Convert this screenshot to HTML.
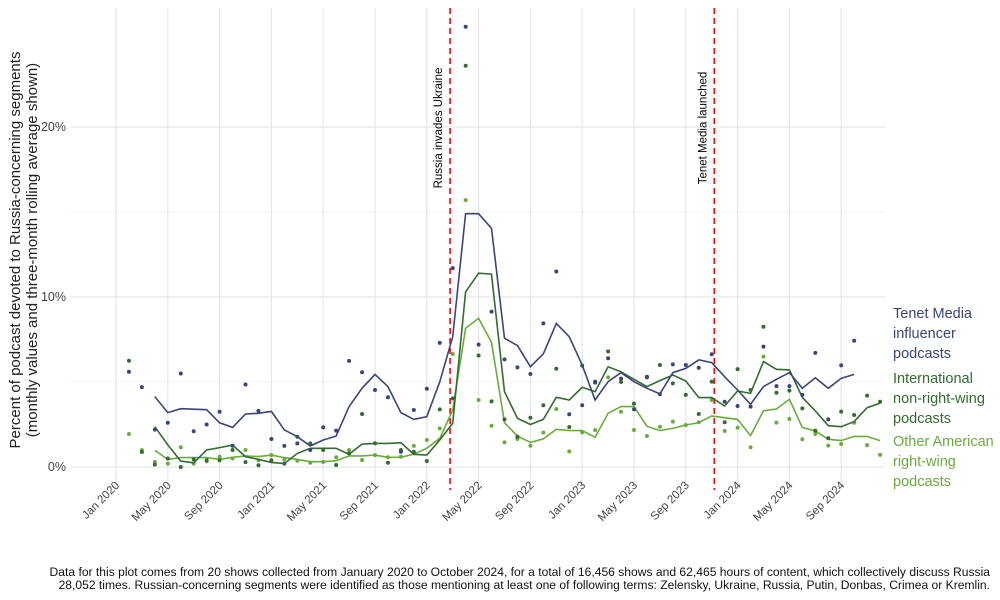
<!DOCTYPE html>
<html><head><meta charset="utf-8">
<style>
body{margin:0;background:#fff;font-family:"Liberation Sans",sans-serif;}
svg{display:block}
</style></head>
<body>
<svg id="chart" width="1000" height="600" xmlns="http://www.w3.org/2000/svg">
<g id="grid"></g>
<g id="events"></g>
<g id="series"></g>
<g id="axes"></g>
<text transform="translate(20,250) rotate(-90)" text-anchor="middle" font-size="15" fill="#222">Percent of podcast devoted to Russia-concerning segments</text>
<text transform="translate(37,250) rotate(-90)" text-anchor="middle" font-size="15" fill="#222">(monthly values and three-month rolling average shown)</text>
<g font-size="14.5">
<text fill="#3a4579" x="893" y="318">Tenet Media<tspan x="893" dy="20">influencer</tspan><tspan x="893" dy="20">podcasts</tspan></text>
<text fill="#336b30" x="893" y="383">International<tspan x="893" dy="20">non-right-wing</tspan><tspan x="893" dy="20">podcasts</tspan></text>
<text fill="#6aab3e" x="893" y="446">Other American<tspan x="893" dy="20">right-wing</tspan><tspan x="893" dy="20">podcasts</tspan></text>
</g>
<g font-size="12.1" fill="#111" text-anchor="end">
<text x="990" y="576">Data for this plot comes from 20 shows collected from January 2020 to October 2024, for a total of 16,456 shows and 62,465 hours of content, which collectively discuss Russia</text>
<text x="990" y="589">28,052 times. Russian-concerning segments were identified as those mentioning at least one of following terms: Zelensky, Ukraine, Russia, Putin, Donbas, Crimea or Kremlin.</text>
</g>
</svg>
<script>
// index i -> month i+1 (months since Jan 2020)
const tenetDots = [5.6,4.7,2.2,2.6,5.5,2.1,2.5,3.25,1.25,4.85,3.3,1.65,1.24,1.39,1.0,2.33,2.14,6.24,5.57,4.53,4.1,0.9,3.35,4.6,7.3,11.7,25.9,7.2,9.14,6.33,5.86,5.47,8.45,11.5,3.1,3.63,5.02,6.4,5.2,3.39,5.31,4.28,6.04,6.0,5.84,6.63,3.84,3.59,3.55,7.08,4.76,4.76,4.24,6.71,2.8,5.98,7.43];
const intlDots = [6.25,0.88,0.15,0.5,0.0,0.45,0.4,0.4,1.0,0.29,0.1,0.4,0.2,1.78,1.39,1.0,0.12,0.8,3.12,1.4,0.25,1.0,0.9,0.35,3.39,4.04,23.6,6.56,3.86,2.8,1.78,2.9,3.63,5.78,2.35,5.96,4.96,6.8,5.0,3.73,5.27,6.0,4.92,4.24,3.12,5.02,2.63,5.76,4.53,8.25,4.37,4.49,3.45,2.14,1.69,3.26,3.06,4.2,3.84];
const rightDots = [1.94,0.99,0.3,0.2,1.16,0.2,0.33,0.6,0.5,1.0,0.4,0.7,0.45,0.37,0.25,0.3,0.57,1.0,0.41,0.7,0.57,0.6,1.24,1.59,2.27,6.65,15.7,3.94,2.43,1.45,1.65,1.25,2.02,3.41,0.92,2.04,2.18,5.27,3.25,2.18,1.82,2.37,2.67,2.47,2.63,3.94,2.12,2.31,1.16,6.49,2.61,2.82,1.63,1.94,1.26,1.35,2.6,1.29,0.71];
// rolling averages, index i -> month i+3
const tenetRoll = [4.14,3.2,3.43,3.4,3.37,2.6,2.33,3.12,3.16,3.27,2.18,1.78,1.24,1.59,1.82,3.55,4.63,5.45,4.73,3.2,2.8,2.96,5.02,7.66,14.9,14.9,14.04,7.57,7.14,5.9,6.65,8.45,7.66,6.0,3.94,5.02,5.55,5.02,4.63,4.3,5.55,5.8,6.3,6.14,5.31,4.53,3.69,4.73,5.16,5.55,4.63,5.25,4.63,5.22,5.45];
const intlRoll = [2.37,1.3,0.35,0.25,1.0,1.14,1.29,0.61,0.45,0.27,0.2,0.8,1.1,1.1,1.1,0.75,1.35,1.39,1.39,1.43,0.75,0.7,1.59,2.57,10.3,11.4,11.35,4.43,2.86,2.5,2.8,4.1,3.94,4.69,4.43,5.9,5.6,5.16,4.73,5.08,5.41,5.06,4.08,4.08,3.59,4.47,4.33,6.2,5.75,5.71,4.1,3.3,2.43,2.37,2.67,3.49,3.75];
const rightRoll = [0.98,0.45,0.55,0.55,0.55,0.45,0.57,0.65,0.61,0.7,0.55,0.45,0.31,0.31,0.37,0.65,0.65,0.7,0.57,0.57,0.76,1.1,1.69,3.35,8.16,8.75,7.33,2.6,1.82,1.45,1.65,2.22,2.14,2.14,1.75,3.16,3.55,3.55,2.4,2.14,2.27,2.47,2.61,3.0,2.9,2.8,1.84,3.31,3.41,3.98,2.33,2.12,1.63,1.55,1.8,1.8,1.55];
const yTicks = [0,10,20];
const yMinor = [5,15];
const xTickMonths = [0,4,8,12,16,20,24,28,32,36,40,44,48,52,56];
const xTickLabels = ["Jan 2020","May 2020","Sep 2020","Jan 2021","May 2021","Sep 2021","Jan 2022","May 2022","Sep 2022","Jan 2023","May 2023","Sep 2023","Jan 2024","May 2024","Sep 2024"];
const eventMonths = [25.8,46.2];
const eventLabels = ["Russia invades Ukraine","Tenet Media launched"];

const NS="http://www.w3.org/2000/svg";
const X0=70,X1=885,Y0=8,Y1=490;
function xs(m){return 116+12.95*m;}
function ys(v){return 467-17*v;}
function mk(tag,parent,attrs){const e=document.createElementNS(NS,tag);for(const k in attrs)e.setAttribute(k,attrs[k]);parent.appendChild(e);return e;}
const grid=document.getElementById('grid'),axes=document.getElementById('axes'),ser=document.getElementById('series'),ev=document.getElementById('events');
yMinor.forEach(v=>{const l=mk('line',grid,{x1:X0,x2:X1,y1:ys(v),y2:ys(v),stroke:'#f3f3f3','stroke-width':1});

});
yTicks.forEach(v=>{const l=mk('line',grid,{x1:X0,x2:X1,y1:ys(v),y2:ys(v),stroke:'#e6e6e6','stroke-width':1.2});


const t=mk('text',axes,{x:66,y:ys(v)+4,'text-anchor':'end','font-size':12.5,fill:'#444'});t.textContent=v+'%';

});
xTickMonths.forEach((m,i)=>{const l=mk('line',grid,{x1:xs(m),x2:xs(m),y1:Y0,y2:Y1,stroke:'#e6e6e6','stroke-width':1.2});


const t=mk('text',axes,{transform:`translate(${xs(m)+4},${486}) rotate(-45)`,'text-anchor':'end','font-size':11.5,fill:'#444'});t.textContent=xTickLabels[i];

});
eventMonths.forEach((m,i)=>{const l=mk('line',ev,{x1:xs(m),x2:xs(m),y1:8,y2:490,stroke:'#f00','stroke-width':1.6,'stroke-dasharray':'6,4'});


const t=mk('text',ev,{transform:`translate(${xs(m)-8},128) rotate(-90)`,'text-anchor':'middle','font-size':11.5,fill:'#000'});t.textContent=eventLabels[i];

});
function draw(dots,roll,color,name){
 const pts=roll.map((v,i)=>xs(i+3).toFixed(1)+','+ys(v).toFixed(1)).join(' ');
 const p=mk('polyline',ser,{points:pts,fill:'none',stroke:color,'stroke-width':1.6});
 
 
 dots.forEach((v,i)=>{const c=mk('circle',ser,{cx:xs(i+1),cy:ys(v),r:2,fill:color});
 
 });
}
draw(rightDots,rightRoll,'#6aab3e','american-right');
draw(intlDots,intlRoll,'#336b30','international');
draw(tenetDots,tenetRoll,'#3a4579','tenet');
</script>
</body></html>
